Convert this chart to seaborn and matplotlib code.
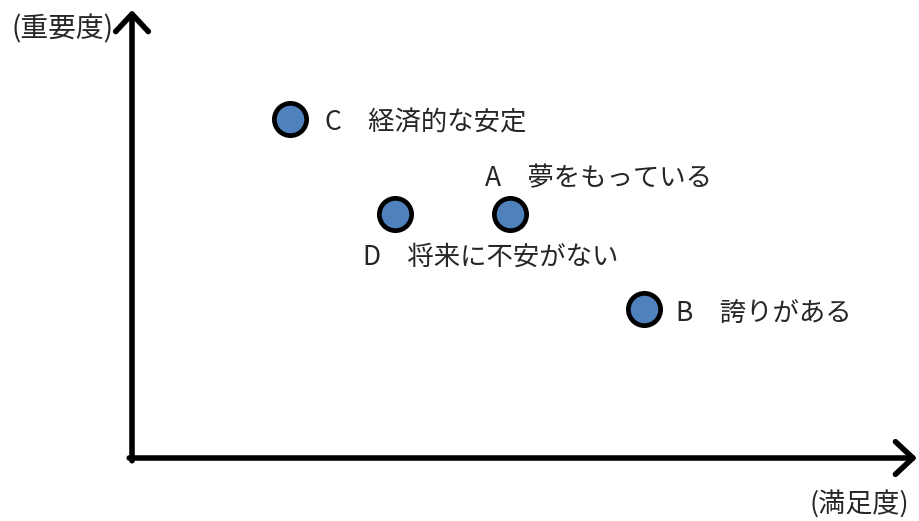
import matplotlib
matplotlib.use("Agg")
import matplotlib.pyplot as plt
import seaborn as sns
import pandas as pd

# data: satisfaction (x) vs importance (y)
keys = ["A", "B", "C", "D"]
names = ["夢をもっている", "誇りがある", "経済的な安定", "将来に不安がない"]
satisfaction = [4.82, 6.52, 2.01, 3.35]
importance = [5.45, 3.33, 7.57, 5.45]
x_label = "(満足度)"
y_label = "(重要度)"

df = pd.DataFrame({"key": keys, "name": names,
                   "satisfaction": satisfaction, "importance": importance})

sns.set_style("white")
plt.rcParams["font.family"] = ["Noto Sans CJK JP", "DejaVu Sans"]

W, H = 919, 521
fig = plt.figure(figsize=(W / 100, H / 100), dpi=100)
# axes box spans from origin to the arrow tips
ax = fig.add_axes([132 / W, (H - 458) / H, (917 - 132) / W, (458 - 10) / H])

sns.scatterplot(data=df, x="satisfaction", y="importance", ax=ax,
                s=540, color="#4F81BD", edgecolor="black", linewidth=3.4,
                legend=False, zorder=3, clip_on=False)

ax.set_xlim(0, 10)
ax.set_ylim(0, 10)
ax.set_xticks([])
ax.set_yticks([])
ax.set_xlabel("")
ax.set_ylabel("")
for s in ax.spines.values():
    s.set_visible(False)

# arrow axes
arrow = dict(arrowstyle="->,head_length=0.45,head_width=0.42", lw=4,
             color="black", mutation_scale=28, shrinkA=0, shrinkB=0)
ax.annotate("", xy=(1, 0), xytext=(-0.0036, 0), xycoords="axes fraction",
            arrowprops=arrow, annotation_clip=False)
ax.annotate("", xy=(0, 1), xytext=(0, -0.0062), xycoords="axes fraction",
            arrowprops=arrow, annotation_clip=False)

# point labels (offsets in points relative to each marker)
offsets = {"A": (-18, 25), "B": (23.4, -3.8), "C": (25.5, -3), "D": (-22.7, -31)}
for _, r in df.iterrows():
    dx, dy = offsets[r["key"]]
    ax.annotate(f"{r['key']}　{r['name']}", xy=(r["satisfaction"], r["importance"]),
                xytext=(dx, dy), textcoords="offset points",
                ha="left", va="center", fontsize=19, annotation_clip=False)

fig.text(12 / W, 1 - 29 / H, y_label, ha="left", va="center", fontsize=20)
fig.text(909 / W, 1 - 504 / H, x_label, ha="right", va="center", fontsize=19.5)

fig.savefig("out.png", dpi=100)
